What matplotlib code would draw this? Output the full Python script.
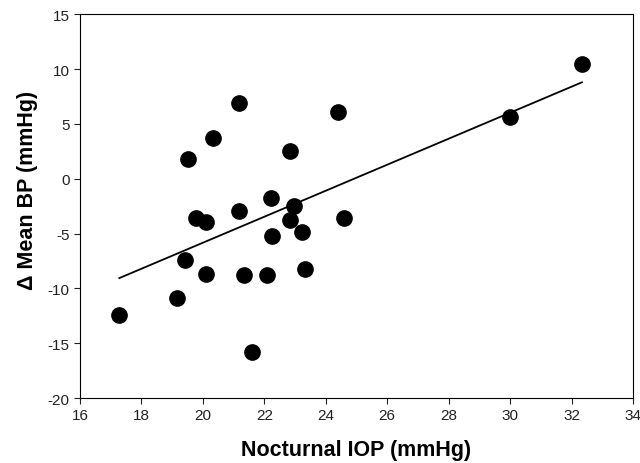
import matplotlib
matplotlib.use("Agg")

import matplotlib.pyplot as plt
from matplotlib.ticker import MultipleLocator

# nocturnal IOP (mmHg) vs change in mean BP (mmHg)
IOP = [21.17, 24.41, 20.33, 19.53, 22.84, 22.21, 22.98, 19.78, 20.09, 21.17,
       22.84, 24.59, 23.23, 22.25, 19.41, 20.10, 21.35, 22.10, 23.34, 19.17,
       17.28, 21.61, 32.34, 30.01]
DELTA_BP = [6.88, 6.11, 3.71, 1.77, 2.55, -1.76, -2.52, -3.59, -3.98, -2.95,
            -3.77, -3.56, -4.84, -5.20, -7.42, -8.70, -8.79, -8.79, -8.21, -10.91,
            -12.44, -15.84, 10.47, 5.66]

# regression line end points
FIT_X = [17.28, 32.34]
FIT_Y = [-9.06, 8.80]

plt.rcParams["font.family"] = ["Liberation Sans", "DejaVu Sans"]
plt.rcParams["axes.unicode_minus"] = False

fig = plt.figure(figsize=(6.4, 4.64), dpi=100)
ax = fig.add_axes([0.125, 0.140, 0.864, 0.827])

ax.plot(FIT_X, FIT_Y, color="black", lw=1.3)
ax.plot(IOP, DELTA_BP, "o", color="black", ms=11, mec="black")

ax.set_xlim(16, 34)
ax.set_ylim(-20, 15)
ax.xaxis.set_major_locator(MultipleLocator(2))
ax.yaxis.set_major_locator(MultipleLocator(5))
ax.tick_params(direction="out", length=4, width=0.8, labelsize=11, colors="#222222")
for side in ax.spines.values():
    side.set_linewidth(0.8)

ax.set_xlabel("Nocturnal IOP (mmHg)", fontsize=15.5, fontweight="bold")
ax.set_ylabel("\u0394 Mean BP (mmHg)", fontsize=15.5, fontweight="bold")
ax.xaxis.set_label_coords(0.5, -0.133, transform=ax.transAxes)
ax.yaxis.set_label_coords(-0.095, 0.544, transform=ax.transAxes)
ax.xaxis.label.set_va("center")
ax.yaxis.label.set_va("center")

fig.savefig("out.png", dpi=100)
